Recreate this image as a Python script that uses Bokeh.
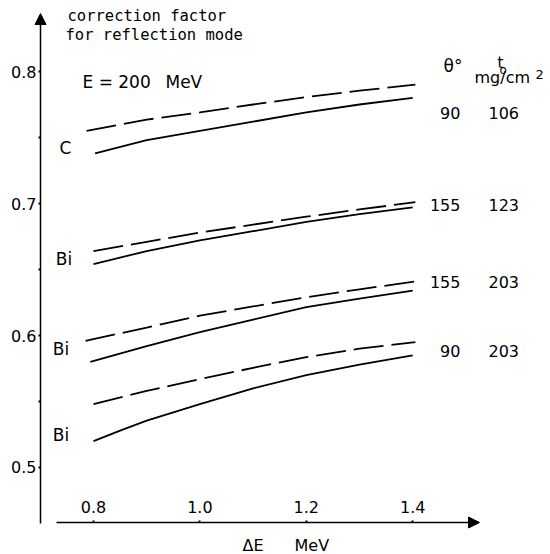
from bokeh.plotting import figure
from bokeh.models import (Range1d, FixedTicker, PrintfTickFormatter,
                          Arrow, NormalHead, Label)
from bokeh.embed import file_html
from bokeh.resources import INLINE

# ---- data ----
x_ticks = [0.8, 1.0, 1.2, 1.4]
y_ticks = [0.5, 0.6, 0.7, 0.8]
y_minor_ticks = [0.55, 0.65, 0.75]

x_c_dash = [0.787, 0.9, 1.0, 1.1, 1.2, 1.3, 1.405]
y_c_dash = [0.755, 0.7635, 0.769, 0.775, 0.7806, 0.7855, 0.790]
x_c_sol = [0.803, 0.9, 1.0, 1.1, 1.2, 1.3, 1.4]
y_c_sol = [0.738, 0.748, 0.755, 0.762, 0.769, 0.775, 0.780]

x_bi1_dash = [0.8, 0.9, 1.0, 1.1, 1.2, 1.3, 1.405]
y_bi1_dash = [0.664, 0.671, 0.678, 0.684, 0.690, 0.6955, 0.701]
x_bi1_sol = [0.8, 0.9, 1.0, 1.1, 1.2, 1.3, 1.4]
y_bi1_sol = [0.654, 0.664, 0.672, 0.679, 0.686, 0.692, 0.697]

x_bi2_dash = [0.785, 0.9, 1.0, 1.1, 1.2, 1.3, 1.405]
y_bi2_dash = [0.596, 0.606, 0.615, 0.622, 0.629, 0.635, 0.641]
x_bi2_sol = [0.794, 0.9, 1.0, 1.1, 1.2, 1.3, 1.4]
y_bi2_sol = [0.580, 0.592, 0.6025, 0.612, 0.6215, 0.628, 0.634]

x_bi3_dash = [0.8, 0.9, 1.0, 1.1, 1.2, 1.3, 1.405]
y_bi3_dash = [0.548, 0.558, 0.567, 0.5755, 0.5836, 0.590, 0.595]
x_bi3_sol = [0.8, 0.85, 0.9, 1.0, 1.1, 1.2, 1.3, 1.4]
y_bi3_sol = [0.520, 0.528, 0.5355, 0.548, 0.560, 0.570, 0.578, 0.585]

materials = ["C", "Bi", "Bi", "Bi"]
theta = ["90", "155", "155", "90"]
t0 = ["106", "123", "203", "203"]

FONT = "DejaVu Sans"
MONO = "DejaVu Sans Mono"
X_AXIS_AT = 0.45833   # y value where the ΔE axis is drawn
Y_AXIS_AT = 0.70038   # x value where the factor axis is drawn

p = figure(width=550, height=554,
           x_range=Range1d(0.62519, 1.65902), y_range=Range1d(0.43409, 0.85379),
           output_backend="svg", toolbar_location=None,
           min_border=0, min_border_left=0, min_border_right=0,
           min_border_top=0, min_border_bottom=0)
p.xgrid.visible = False
p.ygrid.visible = False
p.outline_line_color = None

# axes (drawn inside the frame at fixed locations)
xa = p.xaxis[0]
xa.fixed_location = X_AXIS_AT
xa.ticker = FixedTicker(ticks=x_ticks)
xa.formatter = PrintfTickFormatter(format="%.1f")
xa.axis_line_color = None
xa.major_tick_in = 2
xa.major_tick_out = 0
xa.minor_tick_line_color = None
xa.major_tick_line_width = 2
xa.major_label_standoff = -22
xa.major_label_text_font = FONT
xa.major_label_text_font_size = "16px"
xa.major_label_text_color = "black"

ya = p.yaxis[0]
ya.fixed_location = Y_AXIS_AT
ya.ticker = FixedTicker(ticks=y_ticks, minor_ticks=y_minor_ticks)
ya.formatter = PrintfTickFormatter(format="%.1f")
ya.axis_line_color = None
ya.major_tick_in = 0
ya.major_tick_out = 2
ya.minor_tick_in = 0
ya.minor_tick_out = 2
ya.major_tick_line_width = 2
ya.minor_tick_line_width = 2
ya.major_label_standoff = 2
ya.major_label_text_font = FONT
ya.major_label_text_font_size = "16px"
ya.major_label_text_color = "black"

# axis lines with arrow heads
p.add_layout(Arrow(end=NormalHead(size=11, fill_color="black", line_color="black"),
                   x_start=Y_AXIS_AT, y_start=0.4576, x_end=Y_AXIS_AT, y_end=0.8439,
                   line_width=1.5, line_color="black"))
p.add_layout(Arrow(end=NormalHead(size=11, fill_color="black", line_color="black"),
                   x_start=0.7305, y_start=X_AXIS_AT, x_end=1.5256, y_end=X_AXIS_AT,
                   line_width=1.5, line_color="black"))

# curves
pairs = [(x_c_dash, y_c_dash, x_c_sol, y_c_sol),
         (x_bi1_dash, y_bi1_dash, x_bi1_sol, y_bi1_sol),
         (x_bi2_dash, y_bi2_dash, x_bi2_sol, y_bi2_sol),
         (x_bi3_dash, y_bi3_dash, x_bi3_sol, y_bi3_sol)]
for xd, yd, xs, ys in pairs:
    p.line(xd, yd, line_color="black", line_width=1.8, line_dash="30 8")
    p.line(xs, ys, line_color="black", line_width=1.8)

def lab(x, y, text, size="16px", align="left", font=FONT):
    p.add_layout(Label(x=x, y=y, text=text, text_font=font, text_font_size=size,
                       text_align=align, text_baseline="middle", text_color="black"))

# titles
lab(0.7511, 0.8417, "correction factor", size="15.5px", font=MONO)
lab(0.7474, 0.8280, "for reflection mode", size="15.5px", font=MONO)
lab(0.7793, 0.7924, "E = 200", size="17px")
lab(0.9353, 0.7924, "MeV", size="17px")

# column headers
lab(1.4579, 0.8045, "θ°", size="17px")
lab(1.5594, 0.8061, "t", size="15px")
lab(1.5632, 0.8015, "o", size="12px")
lab(1.5162, 0.7951, "mg/cm", size="16px")
lab(1.6308, 0.7977, "2", size="13px")

# row labels
row_y = [0.7682, 0.6992, 0.6409, 0.5886]
for ty, th, tt in zip(row_y, theta, t0):
    lab(1.4898, ty, th, align="right")
    lab(1.5425, ty, tt)

mat_x = [0.7474, 0.7446, 0.7389, 0.7389]
mat_y = [0.7424, 0.6580, 0.5898, 0.5246]
for mx, my, m in zip(mat_x, mat_y, materials):
    lab(mx, my, m, size="17px", align="center")

lab(1.0801, 0.4409, "ΔE", size="16px")
lab(1.1778, 0.4409, "MeV", size="16px")

open("out.html", "w").write(file_html(p, INLINE))
